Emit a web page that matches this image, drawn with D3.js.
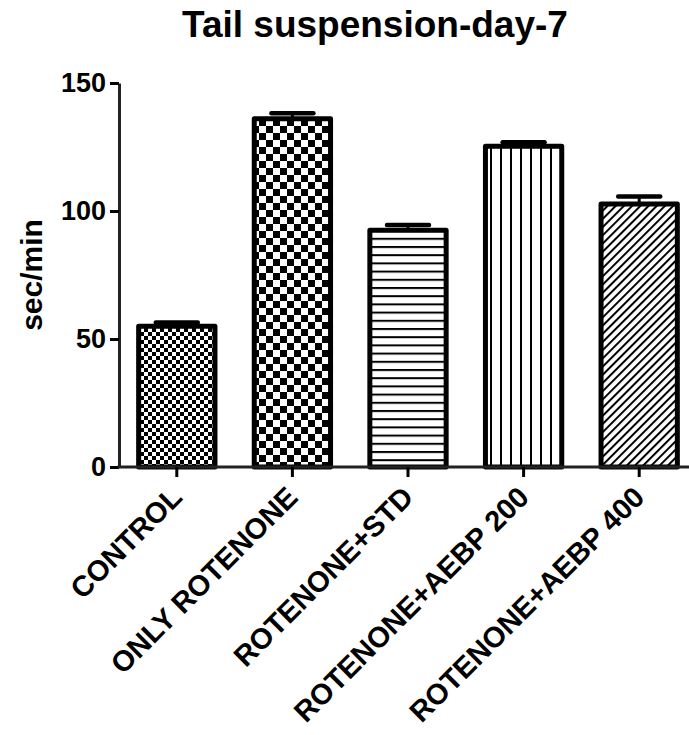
<!DOCTYPE html>
<html>
<head>
<meta charset="utf-8">
<script src="https://cdn.jsdelivr.net/npm/d3@7"></script>
<style>
  html, body { margin: 0; padding: 0; background: #fff; }
  svg { display: block; font-family: Arial, "Liberation Sans", sans-serif; }
</style>
</head>
<body>
<svg id="chart" width="689" height="735"></svg>
<script>
const categories = ["CONTROL", "ONLY ROTENONE", "ROTENONE+STD", "ROTENONE+AEBP 200", "ROTENONE+AEBP 400"];
const means = [55, 136, 92.5, 125.3, 102.7];
const sems = [1.4, 2.2, 2.0, 1.6, 3.0];
const yTicks = [0, 50, 100, 150];
const patternIds = ["pFineChecker", "pCoarseChecker", "pHLines", "pVLines", "pDiag"];

const svg = d3.select("#chart");
const defs = svg.append("defs");

// fine checker
let p = defs.append("pattern").attr("id", "pFineChecker").attr("patternUnits", "userSpaceOnUse")
  .attr("width", 8).attr("height", 8);
p.append("rect").attr("width", 8).attr("height", 8).attr("fill", "#fff");
p.append("rect").attr("width", 4).attr("height", 4).attr("fill", "#000");
p.append("rect").attr("x", 4).attr("y", 4).attr("width", 4).attr("height", 4).attr("fill", "#000");

// coarse checker
p = defs.append("pattern").attr("id", "pCoarseChecker").attr("patternUnits", "userSpaceOnUse")
  .attr("width", 14).attr("height", 14);
p.append("rect").attr("width", 14).attr("height", 14).attr("fill", "#fff");
p.append("rect").attr("width", 7).attr("height", 7).attr("fill", "#000");
p.append("rect").attr("x", 7).attr("y", 7).attr("width", 7).attr("height", 7).attr("fill", "#000");

// horizontal lines
p = defs.append("pattern").attr("id", "pHLines").attr("patternUnits", "userSpaceOnUse")
  .attr("width", 8).attr("height", 8.2);
p.append("rect").attr("width", 8).attr("height", 8.2).attr("fill", "#fff");
p.append("rect").attr("y", 0).attr("width", 8).attr("height", 2).attr("fill", "#000");

// vertical lines
p = defs.append("pattern").attr("id", "pVLines").attr("patternUnits", "userSpaceOnUse")
  .attr("width", 10).attr("height", 10);
p.append("rect").attr("width", 10).attr("height", 10).attr("fill", "#fff");
p.append("rect").attr("x", 0).attr("width", 2).attr("height", 10).attr("fill", "#000");

// diagonal lines "/"
p = defs.append("pattern").attr("id", "pDiag").attr("patternUnits", "userSpaceOnUse")
  .attr("width", 5.8).attr("height", 10).attr("patternTransform", "rotate(45)");
p.append("rect").attr("width", 5.8).attr("height", 10).attr("fill", "#fff");
p.append("rect").attr("x", 0).attr("width", 2).attr("height", 10).attr("fill", "#000");

const x = d3.scaleBand().domain(categories).range([119, 697]).paddingInner(0.34).paddingOuter(0.17);
const y = d3.scaleLinear().domain([0, 150]).range([467, 83]);

// title
svg.append("text").attr("x", 375).attr("y", 37).attr("text-anchor", "middle")
  .attr("font-size", 37).attr("font-weight", "bold").text("Tail suspension-day-7");

// y label
svg.append("text").attr("transform", "translate(42,275) rotate(-90)").attr("text-anchor", "middle")
  .attr("font-size", 30).attr("font-weight", "bold").text("sec/min");

// bars
const g = svg.append("g");
g.selectAll("rect.bar").data(categories).join("rect").attr("class", "bar")
  .attr("x", d => x(d)).attr("width", x.bandwidth())
  .attr("y", (d, i) => y(means[i])).attr("height", (d, i) => y(0) - y(means[i]))
  .attr("fill", (d, i) => `url(#${patternIds[i]})`)
  .attr("stroke", "#000").attr("stroke-width", 5).attr("stroke-linejoin", "round");

// error bars
g.selectAll("line.err").data(categories).join("line").attr("class", "err")
  .attr("x1", d => x(d) + x.bandwidth() / 2).attr("x2", d => x(d) + x.bandwidth() / 2)
  .attr("y1", (d, i) => y(means[i])).attr("y2", (d, i) => y(means[i] + sems[i]))
  .attr("stroke", "#000").attr("stroke-width", 3);
g.selectAll("line.cap").data(categories).join("line").attr("class", "cap")
  .attr("x1", d => x(d) + x.bandwidth() / 2 - 21).attr("x2", d => x(d) + x.bandwidth() / 2 + 21)
  .attr("y1", (d, i) => y(means[i] + sems[i])).attr("y2", (d, i) => y(means[i] + sems[i]))
  .attr("stroke", "#000").attr("stroke-width", 4.5).attr("stroke-linecap", "round");

// y axis
const yAxis = svg.append("g").attr("transform", "translate(119,0)")
  .call(d3.axisLeft(y).tickValues(yTicks).tickSize(9).tickPadding(4).tickSizeOuter(0));
yAxis.select(".domain").attr("stroke", "#222").attr("stroke-width", 3);
yAxis.selectAll(".tick line").attr("stroke", "#000").attr("stroke-width", 3);
yAxis.selectAll(".tick text").attr("font-size", 27).attr("font-weight", "bold")
  .attr("font-family", "Arial, 'Liberation Sans', sans-serif").attr("fill", "#000");

// x axis
const xAxis = svg.append("g").attr("transform", "translate(0,467)")
  .call(d3.axisBottom(x).tickSize(10).tickSizeOuter(0).tickFormat(""));
xAxis.select(".domain").attr("stroke", "#222").attr("stroke-width", 3).attr("d", "M117.5,0H689");
xAxis.selectAll(".tick line").attr("stroke", "#000").attr("stroke-width", 3);

// x labels rotated
svg.append("g").selectAll("text").data(categories).join("text")
  .attr("transform", d => `translate(${x(d) + x.bandwidth() / 2 + 7},${499}) rotate(-45)`)
  .attr("text-anchor", "end").attr("font-size", 29).attr("font-weight", "bold").text(d => d);
</script>
</body>
</html>
